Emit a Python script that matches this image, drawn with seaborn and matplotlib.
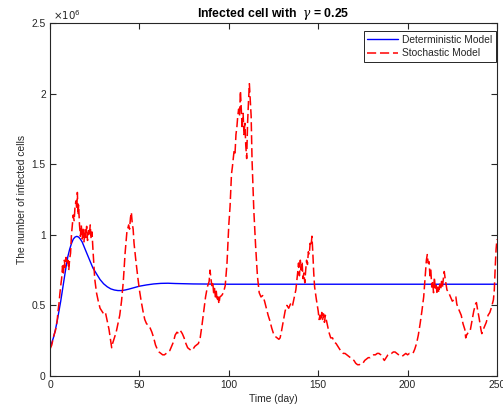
import matplotlib
matplotlib.use("Agg")
import matplotlib.pyplot as plt
import seaborn as sns
import pandas as pd
from matplotlib.ticker import FixedLocator

# ---- data (values in millions of cells) ----
det_time = [0, 1, 2, 3, 4, 5, 6, 7, 8, 9, 10, 11, 12, 13, 14, 15, 16, 17, 18, 19, 20,
            22, 24, 26, 28, 30, 32, 34, 36, 38, 40, 42, 44, 46, 48, 50, 54, 58, 62,
            66, 70, 80, 100, 150, 200, 250]
det_infected = [0.204, 0.235, 0.275, 0.326, 0.388, 0.459, 0.53, 0.612, 0.694, 0.775, 0.847,
                0.898, 0.938, 0.969, 0.984, 0.989, 0.984, 0.969, 0.949, 0.918, 0.887, 0.826,
                0.765, 0.724, 0.683, 0.653, 0.632, 0.617, 0.609, 0.605, 0.605, 0.609, 0.615,
                0.622, 0.629, 0.636, 0.645, 0.652, 0.656, 0.657, 0.655, 0.652, 0.65, 0.65,
                0.65, 0.65]

sto_time = [0, 1, 2, 3, 4, 4.5, 5, 5.5, 6, 6.5, 7, 7.5, 8, 8.5, 9, 9.5, 10, 10.5, 11, 11.5,
            12, 12.5, 13, 13.5, 14, 14.5, 15, 15.3, 15.7, 16, 16.5, 17, 17.5, 18, 18.5, 19,
            19.5, 20, 20.5, 21, 21.5, 22, 22.5, 23, 23.5, 24, 24.5, 25, 26, 27, 28, 29, 30,
            31, 32, 33, 34, 34.5, 35, 36, 37, 38, 39, 40, 41, 42, 43, 44, 44.5, 45, 45.5,
            46, 46.5, 47, 48, 49, 50, 51, 52, 53, 54, 55, 56, 57, 58, 59, 60, 61, 62, 63,
            64, 65, 66, 67, 68, 69, 70, 71, 72, 73, 74, 75, 76, 77, 78, 79, 80, 81, 82, 83,
            84, 85, 86, 87, 88, 89, 89.5, 90, 90.5, 91, 91.5, 92, 92.5, 93, 93.5, 94, 94.5,
            95, 96, 97, 98, 99, 100, 100.7, 101.5, 102, 103, 103.5, 104, 104.5, 105, 105.5,
            106, 106.5, 107, 107.5, 108, 108.5, 109, 109.5, 110, 110.5, 111, 111.5, 112,
            112.5, 113, 114, 115, 116, 117, 118, 119, 120, 121, 122, 123, 124, 125, 126,
            127, 128, 128.7, 129.5, 130.5, 131.5, 132.5, 133.5, 134.5, 135.5, 136.5, 137.5,
            138.5, 139, 139.5, 140, 140.5, 141, 141.5, 142, 142.5, 143, 143.5, 144, 144.5,
            145, 145.5, 146, 146.5, 147, 147.5, 148, 149, 150, 150.5, 151, 151.5, 152,
            152.5, 153, 153.5, 154, 155, 156, 157, 158, 159, 160, 161, 162, 163, 164, 165,
            166, 167, 168, 169, 170, 171, 172, 173, 174, 175, 176, 177, 178, 179, 180, 181,
            182, 183, 184, 185, 186, 187, 188, 189, 190, 191, 192, 193, 194, 195, 196, 197,
            198, 199, 200, 201, 202, 203, 204, 205, 206, 207, 208, 209, 209.5, 210, 210.5,
            211, 211.5, 212, 212.5, 213, 213.5, 214, 214.5, 215, 215.5, 216, 216.5, 217,
            217.5, 218, 218.5, 219, 219.5, 220, 220.5, 221, 221.5, 222, 223, 224, 225, 226,
            227, 227.5, 228, 229, 230, 231, 232, 232.5, 233, 234, 235, 236, 237, 238, 238.5,
            239, 240, 241, 241.5, 242, 243, 244, 245, 246, 247, 248, 248.5, 249, 249.5, 250]
sto_infected = [0.19, 0.22, 0.28, 0.32, 0.39, 0.46, 0.51, 0.58, 0.64, 0.69, 0.78, 0.73, 0.82,
                0.77, 0.84, 0.79, 0.82, 0.75, 0.83, 0.87, 1.00, 1.07, 1.14, 1.10, 1.20, 1.24,
                1.18, 1.30, 1.14, 1.21, 1.07, 0.99, 1.07, 0.97, 1.05, 0.95, 1.04, 0.98, 1.06,
                0.96, 1.03, 0.99, 1.07, 0.97, 1.02, 0.90, 0.80, 0.69, 0.59, 0.53, 0.48, 0.46,
                0.44, 0.45, 0.39, 0.33, 0.24, 0.20, 0.23, 0.27, 0.31, 0.37, 0.43, 0.53, 0.67,
                0.87, 1.02, 1.07, 1.04, 1.12, 1.16, 1.08, 1.04, 0.94, 0.82, 0.71, 0.61, 0.53,
                0.46, 0.40, 0.37, 0.36, 0.34, 0.31, 0.27, 0.22, 0.19, 0.17, 0.16, 0.15, 0.15,
                0.16, 0.17, 0.18, 0.21, 0.24, 0.29, 0.31, 0.30, 0.32, 0.30, 0.27, 0.23, 0.20,
                0.19, 0.18, 0.19, 0.21, 0.22, 0.23, 0.27, 0.36, 0.46, 0.56, 0.63, 0.67, 0.75,
                0.69, 0.64, 0.67, 0.59, 0.62, 0.56, 0.60, 0.53, 0.56, 0.51, 0.56, 0.57, 0.59,
                0.64, 0.80, 1.07, 1.20, 1.43, 1.48, 1.60, 1.58, 1.71, 1.76, 1.84, 1.89, 1.84,
                2.02, 1.89, 1.75, 1.86, 1.71, 1.79, 1.63, 1.54, 1.79, 1.94, 2.07, 1.96, 1.84,
                1.53, 1.17, 0.92, 0.71, 0.59, 0.56, 0.57, 0.53, 0.48, 0.43, 0.39, 0.34, 0.30,
                0.28, 0.27, 0.26, 0.27, 0.32, 0.39, 0.46, 0.50, 0.48, 0.51, 0.49, 0.55, 0.61,
                0.73, 0.80, 0.71, 0.82, 0.75, 0.81, 0.69, 0.73, 0.66, 0.75, 0.82, 0.79, 0.88,
                0.86, 0.94, 0.92, 0.99, 0.87, 0.73, 0.63, 0.54, 0.46, 0.40, 0.43, 0.39, 0.45,
                0.40, 0.44, 0.38, 0.43, 0.37, 0.31, 0.27, 0.27, 0.24, 0.23, 0.21, 0.19, 0.17,
                0.16, 0.16, 0.15, 0.14, 0.13, 0.12, 0.11, 0.09, 0.08, 0.08, 0.09, 0.09, 0.11,
                0.12, 0.13, 0.13, 0.14, 0.15, 0.15, 0.16, 0.16, 0.15, 0.13, 0.11, 0.13, 0.15,
                0.16, 0.16, 0.17, 0.17, 0.16, 0.15, 0.14, 0.14, 0.15, 0.16, 0.15, 0.16, 0.16,
                0.16, 0.19, 0.23, 0.29, 0.37, 0.46, 0.56, 0.65, 0.75, 0.82, 0.86, 0.80, 0.81,
                0.71, 0.75, 0.63, 0.67, 0.59, 0.70, 0.61, 0.64, 0.58, 0.63, 0.59, 0.65, 0.61,
                0.67, 0.63, 0.69, 0.74, 0.69, 0.65, 0.61, 0.59, 0.56, 0.53, 0.54, 0.56, 0.51,
                0.49, 0.46, 0.43, 0.37, 0.33, 0.27, 0.29, 0.31, 0.32, 0.39, 0.46, 0.51, 0.52,
                0.48, 0.41, 0.33, 0.30, 0.32, 0.35, 0.38, 0.43, 0.45, 0.49, 0.54, 0.61, 0.77,
                0.90, 0.97]

x_ticks = [0, 50, 100, 150, 200, 250]
y_ticks = [0, 0.5, 1, 1.5, 2, 2.5]
y_tick_labels = ["0", "0.5", "1", "1.5", "2", "2.5"]
series_names = ["Deterministic Model", "Stochastic Model"]
title_text = r"Infected cell with  $\gamma$ = 0.25"

# ---- style ----
sns.set_style("white")
plt.rcParams["font.family"] = ["Liberation Sans", "DejaVu Sans"]
plt.rcParams["mathtext.fontset"] = "dejavuserif"

FS = 7.4
det_df = pd.DataFrame({"t": det_time, "v": [v * 1e6 for v in det_infected]})
sto_df = pd.DataFrame({"t": sto_time, "v": [v * 1e6 for v in sto_infected]})

fig = plt.figure(figsize=(5.03, 4.09), dpi=100)
ax = fig.add_axes([50 / 503, 33 / 409, 447 / 503, 353 / 409])

sns.lineplot(data=det_df, x="t", y="v", ax=ax, color="#0000ff", linewidth=1.0,
             label=series_names[0], estimator=None, sort=False)
sns.lineplot(data=sto_df, x="t", y="v", ax=ax, color="#ff0000", linewidth=1.1,
             label=series_names[1], estimator=None, sort=False)
ax.lines[1].set_dashes([6, 2.5])

ax.set_xlim(0, 250)
ax.set_ylim(0, 2.5e6)
ax.xaxis.set_major_locator(FixedLocator(x_ticks))
ax.yaxis.set_major_locator(FixedLocator([v * 1e6 for v in y_ticks]))
ax.set_yticklabels(y_tick_labels)

for s in ax.spines.values():
    s.set_color("#262626")
    s.set_linewidth(0.8)
ax.tick_params(direction="in", length=4, width=0.8, color="#262626",
               labelcolor="#262626", labelsize=FS, top=True, right=True,
               bottom=True, left=True, pad=3)

ax.set_xlabel("Time (day)", fontsize=FS, color="#262626", labelpad=3)
ax.set_ylabel("The number of infected cells", fontsize=FS, color="#262626", labelpad=3)
ax.set_title(title_text, fontsize=8.8, fontweight="bold", color="black", pad=4)
ax.text(0.006, 1.003, r"$\times10^{6}$", transform=ax.transAxes, fontsize=FS,
        color="#262626", ha="left", va="bottom",
        fontfamily="DejaVu Sans", math_fontfamily="dejavusans")

leg = ax.legend(loc="upper right", bbox_to_anchor=(0.998, 0.977), fontsize=FS,
                frameon=True, fancybox=False, edgecolor="#262626", framealpha=1,
                borderaxespad=0, handlelength=3.0, handletextpad=0.4,
                borderpad=0.35, labelspacing=0.35)
leg.get_frame().set_linewidth(0.7)

fig.savefig("out.png", dpi=100)
